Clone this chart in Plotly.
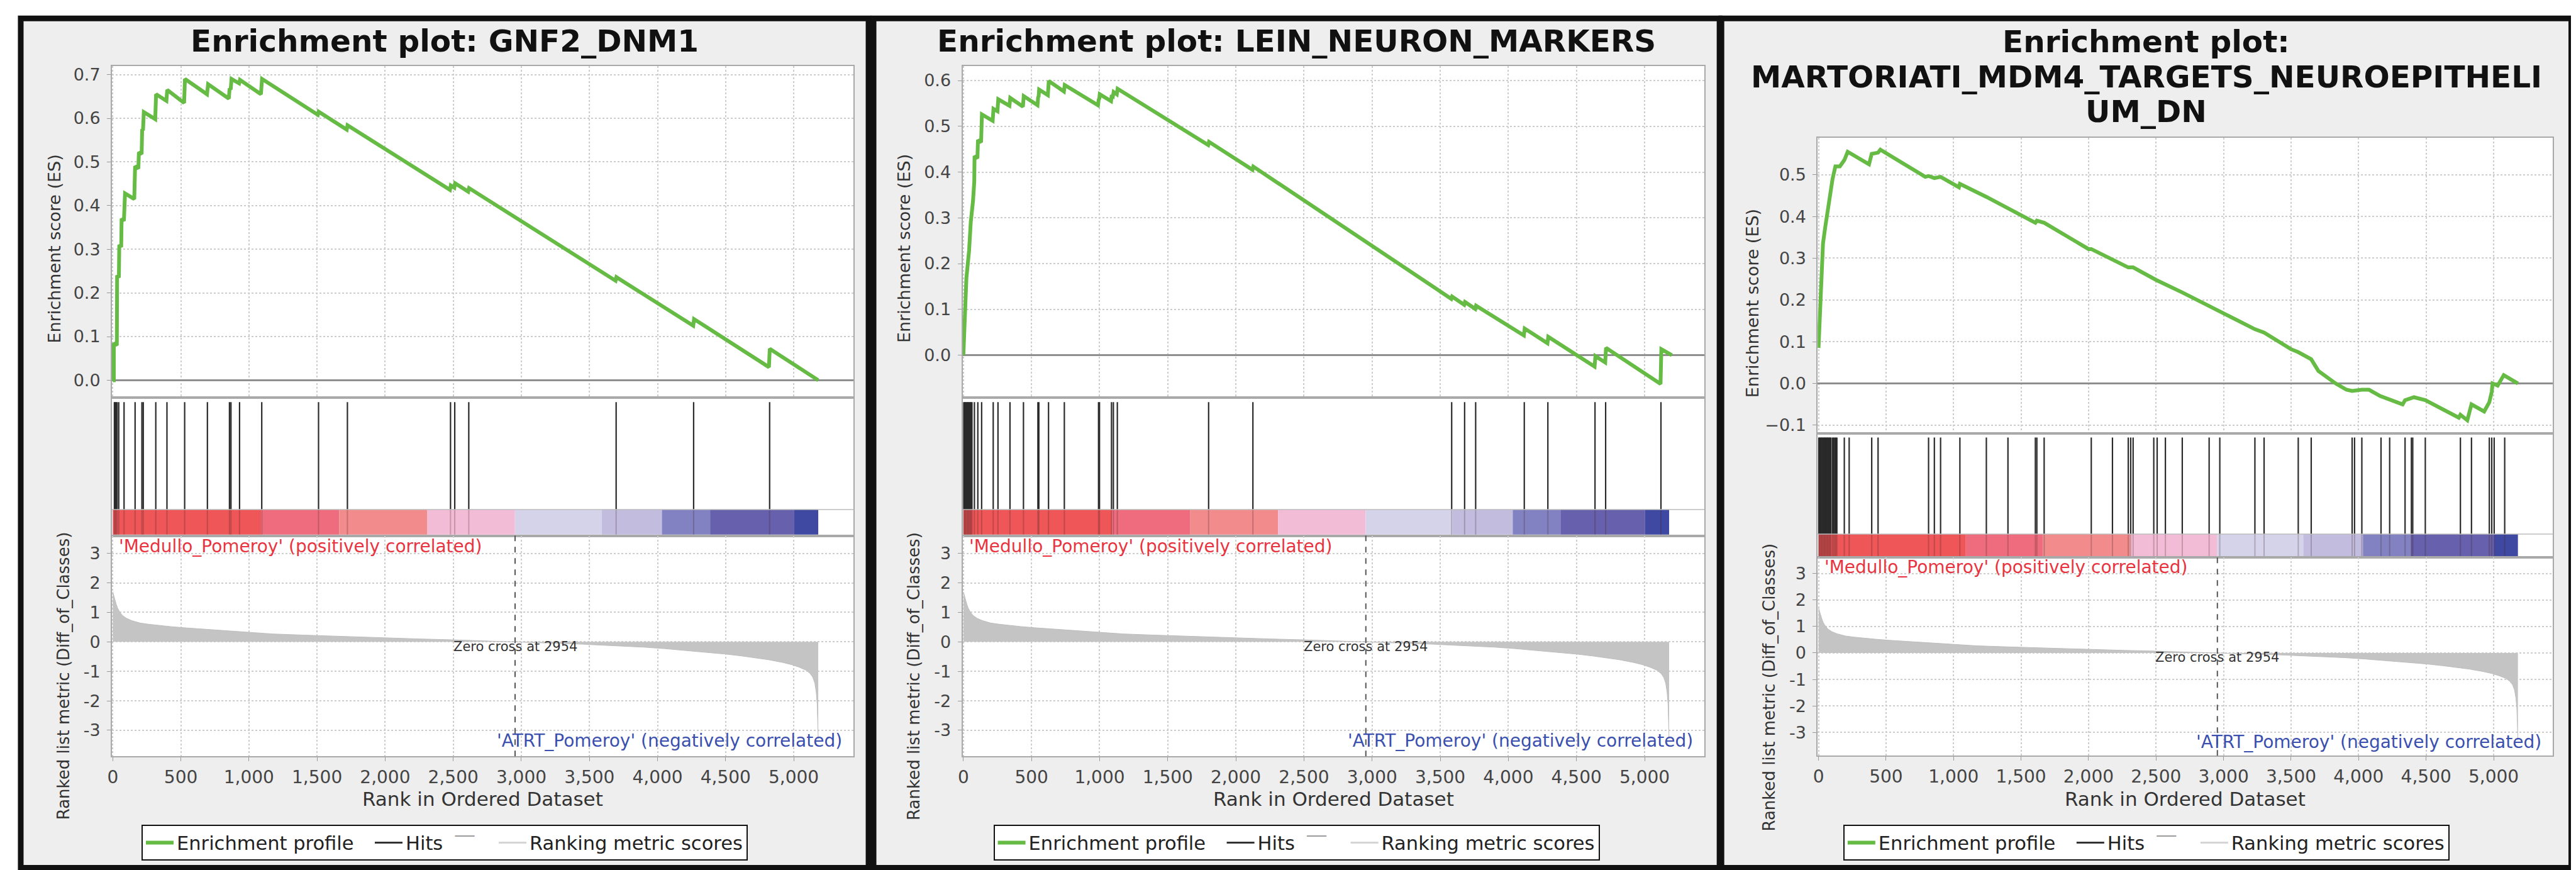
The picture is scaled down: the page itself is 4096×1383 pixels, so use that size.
import plotly.graph_objects as go

W, H = 4096, 1383
FONT = "DejaVu Sans"

# ------------------------------------------------------------------ data
rank_ticks = [0, 500, 1000, 1500, 2000, 2500, 3000, 3500, 4000, 4500, 5000]
metric_ticks = [-3, -2, -1, 0, 1, 2, 3]
metric_tick_text = ["-3", "-2", "-1", "0", "1", "2", "3"]
zero_cross_rank = 2954

titles = [
    ["Enrichment plot: GNF2_DNM1"],
    ["Enrichment plot: LEIN_NEURON_MARKERS"],
    ["Enrichment plot:", "MARTORIATI_MDM4_TARGETS_NEUROEPITHELI", "UM_DN"],
]
pos_label = "'Medullo_Pomeroy' (positively correlated)"
neg_label = "'ATRT_Pomeroy' (negatively correlated)"
zero_label = "Zero cross at 2954"
x_title = "Rank in Ordered Dataset"
es_title = "Enrichment score (ES)"
metric_title = "Ranked list metric (Diff_of_Classes)"
legend_names = ["Enrichment profile", "Hits", "Ranking metric scores"]

# ranked list metric (shared by all three panels)
metric_rank = [0, 8, 16, 25, 35, 50, 70, 100, 140, 200, 260, 330, 420, 520, 640, 780, 890, 1000,
               1170, 1400, 1580, 1800, 2040, 2250, 2490, 2700, 2954, 3150, 3300, 3450, 3580, 3750,
               3900, 4050, 4230, 4380, 4510, 4620, 4720, 4820, 4920, 4990, 5040, 5090, 5120, 5140,
               5155, 5165, 5172, 5177, 5180]
metric_value = [1.7, 1.55, 1.4, 1.28, 1.15, 1.02, 0.9, 0.8, 0.72, 0.64, 0.6, 0.56, 0.52, 0.48, 0.44,
                0.4, 0.35, 0.32, 0.27, 0.23, 0.2, 0.16, 0.13, 0.1, 0.07, 0.04, 0.0, -0.03, -0.05,
                -0.08, -0.11, -0.14, -0.18, -0.23, -0.3, -0.36, -0.42, -0.48, -0.54, -0.61, -0.7,
                -0.78, -0.86, -0.96, -1.07, -1.2, -1.4, -1.7, -2.1, -2.8, -3.3]

# colour band under the hits
band_edges = [0, 1091, 1663, 2310, 2953, 3590, 4032, 4386, 5004, 5180]
band_colors = ["#ee5658", "#ef6b7e", "#f28b8c", "#f3bcd6", "#d5d3ea", "#c2bddf", "#8282c2",
               "#6760ac", "#3f49a2"]

# panel 1 : GNF2_DNM1
es1_rank = [0, 8, 8, 30, 32, 45, 48, 62, 65, 82, 90, 158, 164, 188, 192, 212, 216, 222, 228, 312,
            318, 394, 400, 524, 530, 692, 700, 852, 858, 866, 872, 928, 934, 1088, 1096, 1506, 1512,
            1718, 1724, 2476, 2482, 2508, 2514, 2610, 2616, 3692, 3698, 4262, 4268, 4818, 4824, 5180]
es1_score = [0, 0, 0.085, 0.08, 0.24, 0.235, 0.31, 0.305, 0.37, 0.365, 0.428, 0.415, 0.49, 0.485,
             0.522, 0.518, 0.575, 0.572, 0.614, 0.598, 0.655, 0.64, 0.665, 0.635, 0.69, 0.655,
             0.678, 0.645, 0.668, 0.666, 0.69, 0.68, 0.688, 0.655, 0.69, 0.608, 0.615, 0.574, 0.584,
             0.436, 0.446, 0.441, 0.451, 0.432, 0.44, 0.228, 0.236, 0.125, 0.14, 0.03, 0.072, 0.0]
hits1 = [12, 18, 24, 32, 44, 83, 164, 214, 224, 316, 398, 528, 695, 857, 868, 931, 1094, 1511,
         1723, 2480, 2511, 2614, 3696, 4265, 4823]
es1_ticks = [0.0, 0.1, 0.2, 0.3, 0.4, 0.5, 0.6, 0.7]
es1_range = [-0.04, 0.72]

# panel 2 : LEIN_NEURON_MARKERS
es2_rank = [0, 10, 22, 42, 54, 71, 80, 82, 103, 107, 130, 136, 215, 221, 250, 256, 338, 344, 437,
            443, 544, 549, 552, 556, 620, 627, 738, 744, 988, 994, 997, 1001, 1084, 1089, 1098,
            1103, 1126, 1132, 1797, 1803, 2122, 2128, 3581, 3587, 3676, 3682, 3757, 3763, 4114,
            4120, 4287, 4293, 4633, 4639, 4711, 4717, 5117, 5123, 5200]
es2_score = [0, 0.097, 0.168, 0.229, 0.29, 0.338, 0.38, 0.435, 0.43, 0.47, 0.465, 0.526, 0.512,
             0.538, 0.533, 0.559, 0.545, 0.562, 0.543, 0.566, 0.546, 0.565, 0.564, 0.58, 0.568,
             0.599, 0.576, 0.59, 0.546, 0.56, 0.559, 0.57, 0.555, 0.568, 0.566, 0.575, 0.57, 0.582,
             0.459, 0.466, 0.405, 0.412, 0.123, 0.128, 0.11, 0.116, 0.101, 0.108, 0.043, 0.058,
             0.026, 0.04, -0.025, -0.002, -0.016, 0.016, -0.063, 0.013, 0.0]
hits2 = [3, 9, 15, 21, 27, 33, 39, 45, 51, 57, 63, 81, 106, 134, 219, 254, 342, 441, 547, 554, 625,
         741, 992, 999, 1087, 1101, 1130, 1800, 2125, 3584, 3679, 3760, 4117, 4290, 4636, 4714, 5120]
es2_ticks = [0.0, 0.1, 0.2, 0.3, 0.4, 0.5, 0.6]
es2_range = [-0.093, 0.632]

# panel 3 : MARTORIATI_MDM4_TARGETS_NEUROEPITHELIUM_DN
es3_rank = [0, 12, 21, 33, 50, 67, 83, 104, 125, 158, 191, 216, 374, 394, 441, 458, 790, 815, 858,
            904, 1040, 1047, 1243, 1403, 1606, 1617, 1671, 2000, 2020, 2294, 2330, 2500, 2694, 3000,
            3232, 3300, 3500, 3553, 3649, 3702, 3830, 3910, 3952, 4024, 4077, 4160, 4326, 4344,
            4410, 4494, 4742, 4754, 4805, 4836, 4930, 4968, 4986, 4992, 5030, 5075, 5180]
es3_score = [0.085, 0.2, 0.27, 0.335, 0.375, 0.415, 0.455, 0.49, 0.52, 0.52, 0.535, 0.555, 0.525,
             0.55, 0.553, 0.56, 0.495, 0.497, 0.492, 0.495, 0.47, 0.478, 0.447, 0.42, 0.385, 0.39,
             0.385, 0.322, 0.322, 0.278, 0.278, 0.248, 0.218, 0.168, 0.13, 0.122, 0.082, 0.075,
             0.058, 0.03, 0.0, -0.015, -0.018, -0.015, -0.015, -0.03, -0.05, -0.04, -0.033, -0.04,
             -0.082, -0.075, -0.088, -0.05, -0.067, -0.045, -0.02, 0.0, -0.005, 0.02, 0.0]
hits3 = [2, 8, 14, 20, 26, 32, 38, 44, 50, 56, 62, 68, 74, 80, 86, 92, 104, 112, 120, 128, 136, 191,
         227, 394, 441, 815, 858, 904, 1047, 1243, 1403, 1606, 1617, 1671, 2020, 2177, 2294, 2312,
         2330, 2483, 2508, 2569, 2694, 2893, 2972, 3232, 3300, 3553, 3649, 3952, 3970, 4024, 4166,
         4230, 4344, 4391, 4401, 4494, 4754, 4836, 4968, 4986, 5004, 5082]
es3_ticks = [-0.1, 0.0, 0.1, 0.2, 0.3, 0.4, 0.5]
es3_range = [-0.12, 0.589]

metric_range = [-3.88, 3.6]
rank_range = [-6, 5440]

panels = [
    dict(rank=es1_rank, score=es1_score, hits=hits1, ticks=es1_ticks, rng=es1_range),
    dict(rank=es2_rank, score=es2_score, hits=hits2, ticks=es2_ticks, rng=es2_range),
    dict(rank=es3_rank, score=es3_score, hits=hits3, ticks=es3_ticks, rng=es3_range),
]
for pnl in panels:
    assert len(pnl["rank"]) == len(pnl["score"])
assert len(metric_rank) == len(metric_value)

# ------------------------------------------------------------------ geometry (px)
GREEN = "#66bb44"
frame_x = [(17.0, 1367.7), (1375.7, 2723.5), (2726.5, 4080.5)]
frame_y = (19.4, 1373.5)
plot_x = [(162.3, 1344.0), (1517.5, 2699.6), (2879.9, 4051.4)]
rows = [
    [(95.0, 624.0), (624.0, 844.0), (844.0, 1195.7)],
    [(95.0, 624.0), (624.0, 844.0), (844.0, 1195.7)],
    [(209.3, 681.2), (681.2, 878.9), (878.9, 1194.8)],
]
title_y = [[55.0], [55.0], [55.7, 112.4, 167.6]]
es_title_pos = [(70.3, 386.6), (1424.4, 386.6), (2776.2, 473.8)]
metric_title_pos = [(84.8, 1067.8), (1440.0, 1067.8), (2803.0, 1086.2)]
x_title_y = 1263.6
legend_top = 1305.0
legend_item_w = [305, 138, 340]
band_lo, band_hi, hit_top = 0.008, 0.19, 0.968


def px(x):
    return x / W


def py(y):
    return 1 - y / H


fig = go.Figure()
layout = dict(
    width=W, height=H, margin=dict(l=0, r=0, t=0, b=0),
    paper_bgcolor="white", plot_bgcolor="rgba(0,0,0,0)",
    font=dict(family=FONT, size=27, color="#444"),
    hovermode=False, showlegend=True,
)
shapes, annotations = [], []

band_mid = [(a + b) / 2 for a, b in zip(band_edges[:-1], band_edges[1:])]
band_w = [b - a for a, b in zip(band_edges[:-1], band_edges[1:])]

axis_line = dict(showline=True, mirror=True, linecolor="#a9a9a9", linewidth=2)
grid = dict(showgrid=True, gridcolor="#cdcdcd", gridwidth=1.5, griddash="dot")
ytick_font = dict(family=FONT, size=27, color="#444")
xtick_font = dict(family=FONT, size=28, color="#444")

for p, pnl in enumerate(panels):
    fx0, fx1 = frame_x[p]
    shapes.append(dict(type="rect", xref="paper", yref="paper", layer="below",
                       x0=px(fx0), x1=px(fx1), y0=py(frame_y[1]), y1=py(frame_y[0]),
                       fillcolor="#eeeeee", line=dict(color="#111111", width=9)))
    x0, x1 = plot_x[p]
    shapes.append(dict(type="rect", xref="paper", yref="paper", layer="below",
                       x0=px(x0), x1=px(x1), y0=py(rows[p][2][1]), y1=py(rows[p][0][0]),
                       fillcolor="white", line=dict(width=0)))
    names = []
    for k in range(3):
        n = 3 * p + k + 1
        xa = "xaxis" if n == 1 else f"xaxis{n}"
        ya = "yaxis" if n == 1 else f"yaxis{n}"
        xr = "x" if n == 1 else f"x{n}"
        yr = "y" if n == 1 else f"y{n}"
        names.append((xr, yr))
        top, bot = rows[p][k]
        xd = dict(domain=[px(x0), px(x1)], anchor=yr, range=rank_range, zeroline=False,
                  tickvals=rank_ticks, **axis_line)
        yd = dict(domain=[py(bot), py(top)], anchor=xr, **axis_line)
        if k == 0:
            xd.update(showticklabels=False, ticks="", **grid)
            yd.update(range=pnl["rng"], tickvals=pnl["ticks"], tickformat=".1f", ticks="outside",
                      ticklen=6, tickcolor="#999", ticklabelstandoff=5, tickfont=ytick_font,
                      zeroline=True, zerolinecolor="#8e8e8e", zerolinewidth=3, **grid)
        elif k == 1:
            xd.update(showticklabels=False, ticks="", showgrid=False)
            yd.update(range=[0, 1], showticklabels=False, ticks="", showgrid=False, zeroline=False)
        else:
            xd.update(tickformat=",d", ticks="outside", ticklen=6, tickcolor="#999",
                      ticklabelstandoff=1, tickfont=xtick_font, **grid)
            yd.update(range=metric_range, tickvals=metric_ticks, ticktext=metric_tick_text,
                      ticks="outside", ticklen=6, tickcolor="#999", ticklabelstandoff=5,
                      tickfont=ytick_font, zeroline=False, **grid)
        layout[xa] = xd
        layout[ya] = yd

    (xe, ye), (xh, yh), (xm, ym) = names
    lg = "legend" if p == 0 else f"legend{p + 1}"

    # ranked list metric
    fig.add_trace(go.Scatter(x=metric_rank, y=metric_value, mode="lines", fill="tozeroy",
                             fillcolor="#c4c4c4", line=dict(color="#bdbdbd", width=1),
                             xaxis=xm, yaxis=ym, showlegend=False, hoverinfo="skip"))
    shapes.append(dict(type="line", xref=xm, yref=f"{ym} domain", x0=zero_cross_rank,
                       x1=zero_cross_rank, y0=0, y1=1,
                       line=dict(color="#555555", width=2, dash="dash")))

    # colour band
    fig.add_trace(go.Bar(x=band_mid, y=[band_hi - band_lo] * len(band_mid), base=band_lo,
                         width=band_w, marker=dict(color=band_colors, line=dict(width=0)),
                         xaxis=xh, yaxis=yh, showlegend=False, hoverinfo="skip"))
    # hits
    hx, hy, bx, by = [], [], [], []
    for h in pnl["hits"]:
        hx += [h, h, None]
        hy += [band_hi, hit_top, None]
        bx += [h, h, None]
        by += [band_lo, band_hi, None]
    fig.add_trace(go.Scatter(x=bx, y=by, mode="lines", line=dict(color="rgba(60,30,30,0.25)", width=2),
                             xaxis=xh, yaxis=yh, showlegend=False, hoverinfo="skip"))
    fig.add_trace(go.Scatter(x=hx, y=hy, mode="lines", line=dict(color="#2a2a2a", width=2.2),
                             xaxis=xh, yaxis=yh, showlegend=False, hoverinfo="skip"))
    shapes.append(dict(type="line", xref=f"{xh} domain", yref=yh, x0=0, x1=1, y0=band_hi,
                       y1=band_hi, line=dict(color="#bdbdbd", width=1.5)))

    # enrichment profile
    fig.add_trace(go.Scatter(x=pnl["rank"], y=pnl["score"], mode="lines",
                             line=dict(color=GREEN, width=6), xaxis=xe, yaxis=ye,
                             showlegend=False, hoverinfo="skip"))

    # legend entries
    fig.add_trace(go.Scatter(x=[None], y=[None], mode="lines", line=dict(color=GREEN, width=6),
                             name=legend_names[0], legend=lg, legendwidth=legend_item_w[0],
                             xaxis=xe, yaxis=ye))
    fig.add_trace(go.Scatter(x=[None], y=[None], mode="lines", line=dict(color="#333333", width=3),
                             name=legend_names[1] + "  <span style='color:#9a9a9a'>‾‾</span>",
                             legend=lg, legendwidth=legend_item_w[1], xaxis=xe, yaxis=ye))
    fig.add_trace(go.Scatter(x=[None], y=[None], mode="lines", line=dict(color="#d4d4d4", width=3),
                             name=legend_names[2], legend=lg, legendwidth=legend_item_w[2],
                             xaxis=xe, yaxis=ye))
    layout[lg] = dict(orientation="h", x=px((fx0 + fx1) / 2), xanchor="center",
                      y=py(legend_top), yanchor="top", bgcolor="white", bordercolor="#111111",
                      borderwidth=2, font=dict(family=FONT, size=30.5, color="#222"),
                      itemwidth=44, tracegroupgap=0)

    # titles and labels
    cx = (fx0 + fx1) / 2
    for line_text, ty in zip(titles[p], title_y[p]):
        annotations.append(dict(text=line_text, xref="paper", yref="paper", x=px(cx), y=py(ty),
                                xanchor="center", yanchor="middle", showarrow=False,
                                font=dict(family=FONT, size=48.5, color="#111", weight="bold")))
    annotations.append(dict(text=x_title, xref="paper", yref="paper", x=px((x0 + x1) / 2),
                            y=py(x_title_y), xanchor="center", yanchor="middle", showarrow=False,
                            font=dict(family=FONT, size=31, color="#333")))
    ex, ey = es_title_pos[p]
    annotations.append(dict(text=es_title, xref="paper", yref="paper", x=px(ex), y=py(ey),
                            xanchor="center", yanchor="middle", textangle=-90, showarrow=False,
                            font=dict(family=FONT, size=27, color="#333")))
    mx, my = metric_title_pos[p]
    annotations.append(dict(text=metric_title, xref="paper", yref="paper", x=px(mx), y=py(my),
                            xanchor="center", yanchor="middle", textangle=-90, showarrow=False,
                            font=dict(family=FONT, size=26, color="#333")))
    annotations.append(dict(text=pos_label, xref=xm, yref=ym, x=35, y=3.23, xanchor="left",
                            yanchor="middle", showarrow=False,
                            font=dict(family=FONT, size=28, color="#e8343f")))
    annotations.append(dict(text=neg_label, xref=xm, yref=ym, x=5365, y=-3.35, xanchor="right",
                            yanchor="middle", showarrow=False,
                            font=dict(family=FONT, size=28, color="#3a4fae")))
    annotations.append(dict(text=zero_label, xref=xm, yref=ym, x=zero_cross_rank, y=-0.16,
                            xanchor="center", yanchor="middle", showarrow=False,
                            font=dict(family=FONT, size=21, color="#333")))

layout["shapes"] = shapes
layout["annotations"] = annotations
fig.update_layout(**layout)
fig.write_html("out.html")
